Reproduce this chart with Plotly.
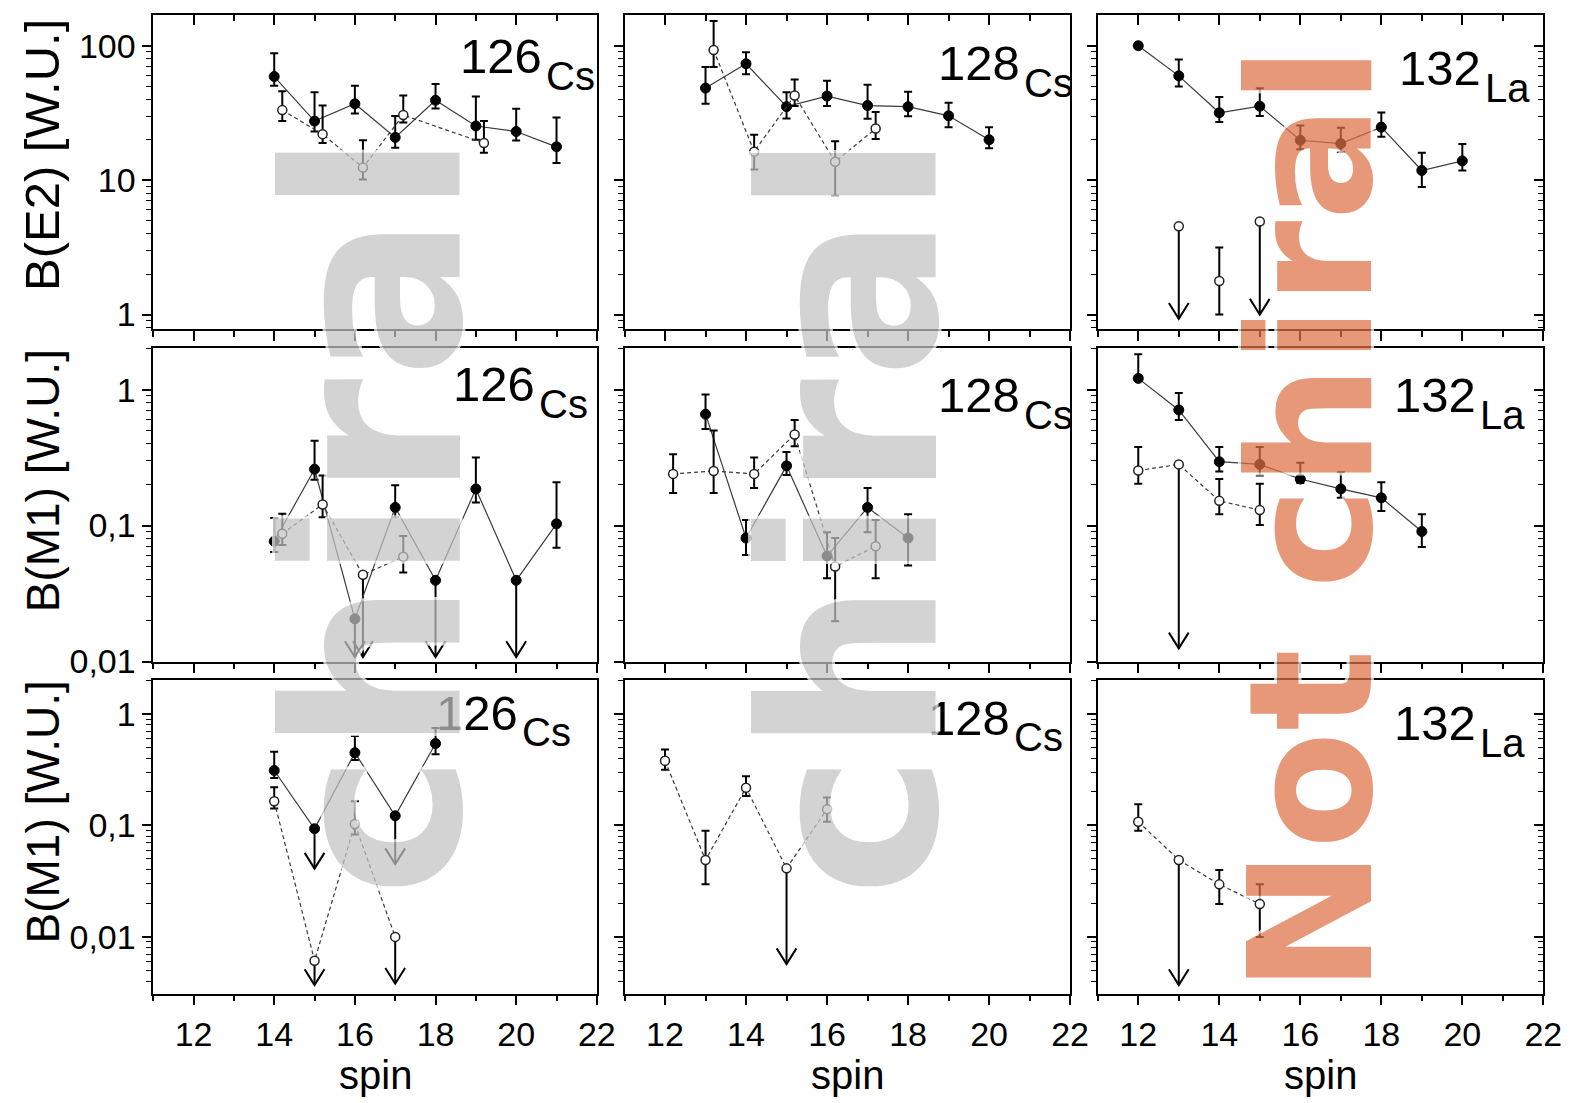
import plotly.graph_objects as go

W, H = 1583, 1103

# ============================ DATA ============================
# ---- Row 1 : B(E2) [W.U.] ----
cs126_e2_f_spin = [14, 15, 16, 17, 18, 19, 20, 21]
cs126_e2_f_val = [59, 27.5, 37, 20.8, 39.3, 25.3, 23, 17.7]
cs126_e2_f_hi = [88, 45, 50.5, 30, 52, 42, 34, 29.3]
cs126_e2_f_lo = [50.5, 23, 31.3, 17.4, 34.1, 20, 19.7, 13.4]
cs126_e2_o_spin = [14.2, 15.2, 16.2, 17.2, 19.2]
cs126_e2_o_val = [33.2, 22, 12.4, 30.5, 18.9]
cs126_e2_o_hi = [45.9, 36, 19.8, 42.7, 27.5]
cs126_e2_o_lo = [27.5, 18.9, 10.1, 26.8, 16]

cs128_e2_f_spin = [13, 14, 15, 16, 17, 18, 19, 20]
cs128_e2_f_val = [48.4, 73.5, 35.2, 42.2, 35.9, 35.2, 30.1, 20.0]
cs128_e2_f_hi = [69.5, 89.4, 45, 54.8, 51.3, 45.5, 37.7, 24.8]
cs128_e2_f_lo = [37.1, 61.5, 28.8, 35.6, 28.6, 29.9, 24.8, 17.3]
cs128_e2_o_spin = [13.2, 14.2, 15.2, 16.2, 17.2]
cs128_e2_o_val = [93, 16.3, 42.6, 13.7, 24.2]
cs128_e2_o_hi = [153, 21.8, 56, 19.5, 32.2]
cs128_e2_o_lo = [69.5, 12, 35.6, 7.66, 20.2]

la132_e2_f_spin = [12, 13, 14, 15, 16, 17, 18, 19, 20]
la132_e2_f_val = [100, 59.7, 31.7, 35.5, 19.8, 18.7, 24.8, 11.8, 13.9]
la132_e2_f_hi = [None, 79, 41.5, 48.3, 25.5, 24.5, 31.9, 16, 18.6]
la132_e2_f_lo = [None, 49.7, 27.1, 30, 17, 16.2, 21, 8.9, 11.8]
la132_e2_o_spin = [13, 14, 15]
la132_e2_o_val = [4.54, 1.78, 4.93]
la132_e2_o_hi = [None, 3.16, None]
la132_e2_o_lo = [None, 1.0, None]
la132_e2_lim_spin = [13, 15]
la132_e2_lim_from = [4.54, 4.93]
la132_e2_lim_to = [0.93, 1.0]

# ---- Row 2 : B(M1) [W.U.] ----
cs126_m1_f_spin = [14, 15, 16, 17, 18, 19, 20, 21]
cs126_m1_f_val = [0.0766, 0.26, 0.0206, 0.136, 0.0396, 0.186, 0.0396, 0.103]
cs126_m1_f_hi = [0.1135, 0.42, None, 0.198, None, 0.317, None, 0.208]
cs126_m1_f_lo = [0.064, 0.217, None, 0.115, None, 0.148, None, 0.0686]
cs126_m1_f_lim_spin = [16, 18, 20]
cs126_m1_f_lim_from = [0.0206, 0.0396, 0.0396]
cs126_m1_f_lim_to = [0.0108, 0.0108, 0.0108]
cs126_m1_o_spin = [14.2, 15.2, 16.2, 17.2]
cs126_m1_o_val = [0.087, 0.143, 0.0435, 0.059]
cs126_m1_o_hi = [0.122, 0.234, None, 0.0837]
cs126_m1_o_lo = [0.072, 0.115, None, 0.0452]
cs126_m1_o_lim_spin = [16.2]
cs126_m1_o_lim_from = [0.0435]
cs126_m1_o_lim_to = [0.0108]

cs128_m1_f_spin = [13, 14, 15, 16, 17, 18]
cs128_m1_f_val = [0.66, 0.081, 0.275, 0.0597, 0.136, 0.081]
cs128_m1_f_hi = [0.92, 0.11, 0.348, 0.0895, 0.189, 0.121]
cs128_m1_f_lo = [0.514, 0.0607, 0.236, 0.041, 0.0895, 0.0508]
cs128_m1_o_spin = [12.2, 13.2, 14.2, 15.2, 16.2, 17.2]
cs128_m1_o_val = [0.24, 0.252, 0.24, 0.468, 0.05, 0.0705]
cs128_m1_o_hi = [0.335, 0.5, 0.317, 0.597, 0.081, 0.11]
cs128_m1_o_lo = [0.174, 0.174, 0.189, 0.383, 0.0198, 0.041]

la132_m1_f_spin = [12, 13, 14, 15, 16, 17, 18, 19]
la132_m1_f_val = [1.21, 0.709, 0.295, 0.282, 0.22, 0.186, 0.16, 0.0905]
la132_m1_f_hi = [1.82, 0.946, 0.379, 0.379, 0.29, 0.247, 0.208, 0.121]
la132_m1_f_lo = [None, 0.597, 0.25, 0.234, 0.206, 0.16, 0.128, 0.0697]
la132_m1_o_spin = [12, 13, 14, 15]
la132_m1_o_val = [0.254, 0.282, 0.152, 0.13]
la132_m1_o_hi = [0.379, None, 0.22, 0.203]
la132_m1_o_lo = [0.203, None, 0.121, 0.101]
la132_m1_lim_spin = [13]
la132_m1_lim_from = [0.282]
la132_m1_lim_to = [0.0125]

# ---- Row 3 : B(M1) [W.U.] (partner band) ----
cs126_m1b_f_spin = [14, 15, 16, 17, 18]
cs126_m1b_f_val = [0.311, 0.0934, 0.449, 0.122, 0.543]
cs126_m1b_f_hi = [0.458, None, 0.634, None, 0.747]
cs126_m1b_f_lo = [0.266, None, 0.386, None, 0.436]
cs126_m1b_f_lim_spin = [15, 17]
cs126_m1b_f_lim_from = [0.0934, 0.122]
cs126_m1b_f_lim_to = [0.041, 0.045]
cs126_m1b_o_spin = [14, 15, 16, 17]
cs126_m1b_o_val = [0.165, 0.0061, 0.103, 0.01]
cs126_m1b_o_hi = [0.22, None, 0.165, None]
cs126_m1b_o_lo = [0.142, None, 0.083, None]
cs126_m1b_o_lim_spin = [15, 17]
cs126_m1b_o_lim_from = [0.0061, 0.01]
cs126_m1b_o_lim_to = [0.0037, 0.0038]

cs128_m1b_o_spin = [12, 13, 14, 15, 16]
cs128_m1b_o_val = [0.38, 0.049, 0.218, 0.0412, 0.14]
cs128_m1b_o_hi = [0.481, 0.0897, 0.276, None, 0.178]
cs128_m1b_o_lo = [0.316, 0.0296, 0.184, None, 0.108]
cs128_m1b_lim_spin = [15]
cs128_m1b_lim_from = [0.0412]
cs128_m1b_lim_to = [0.0057]

la132_m1b_o_spin = [12, 13, 14, 15]
la132_m1b_o_val = [0.108, 0.049, 0.0296, 0.0197]
la132_m1b_o_hi = [0.155, None, 0.0398, 0.0296]
la132_m1b_o_lo = [0.0897, None, 0.0197, 0.01]
la132_m1b_lim_spin = [13]
la132_m1b_lim_from = [0.049]
la132_m1b_lim_to = [0.0037]

# ---- tick labels / texts ----
x_major = [12, 14, 16, 18, 20, 22]
x_minor = [11, 13, 15, 17, 19, 21]
e2_tickvals = [1, 10, 100]
e2_ticktext = ['1', '10', '100']
m1_tickvals = [0.01, 0.1, 1]
m1_ticktext = ['0,01', '0,1', '1']
nucleus_mass = ['126', '128', '132']
nucleus_elem = ['Cs', 'Cs', 'La']
row_titles = ['B(E2) [W.U.]', 'B(M1) [W.U.]', 'B(M1) [W.U.]']
x_title = 'spin'
stamps = ['chiral', 'chiral', 'Not chiral']

# ============================ LAYOUT ============================
COLS = [(147, 596), (624, 1075), (1103, 1554)]
ROWS = [(7.5, 327), (346, 665), (684, 1003)]
YRANGES = [(-0.11, 2.226), (-2.0, 0.306), (-2.51, 0.303)]
XRANGE = [11, 22]
TICKFONT = 34


def minor_log(lo, hi):
    out = []
    for e in range(int(lo) - 1, int(hi) + 2):
        for m in range(2, 10):
            v = m * 10.0 ** e
            if 10 ** lo <= v <= 10 ** hi:
                out.append(v)
    return out


def err(val, hi, lo):
    plus = [(h - v) if h is not None else None for v, h in zip(val, hi)]
    minus = [(v - l) if l is not None else None for v, l in zip(val, lo)]
    return plus, minus


def name(k):
    return '' if k == 1 else str(k)


FONT = 'Liberation Sans, Arial, sans-serif'
fig = go.Figure()

filled = dict(symbol='circle', size=10, color='black', line=dict(color='black', width=1))
opened = dict(symbol='circle', size=9, color='white', line=dict(color='#222', width=1.5))

panels = {
    (0, 0): dict(series=[
        (cs126_e2_f_spin, cs126_e2_f_val, cs126_e2_f_hi, cs126_e2_f_lo, 'f', True),
        (cs126_e2_o_spin, cs126_e2_o_val, cs126_e2_o_hi, cs126_e2_o_lo, 'o', True)],
        limits=[]),
    (0, 1): dict(series=[
        (cs128_e2_f_spin, cs128_e2_f_val, cs128_e2_f_hi, cs128_e2_f_lo, 'f', True),
        (cs128_e2_o_spin, cs128_e2_o_val, cs128_e2_o_hi, cs128_e2_o_lo, 'o', True)],
        limits=[]),
    (0, 2): dict(series=[
        (la132_e2_f_spin, la132_e2_f_val, la132_e2_f_hi, la132_e2_f_lo, 'f', True),
        (la132_e2_o_spin, la132_e2_o_val, la132_e2_o_hi, la132_e2_o_lo, 'o', False)],
        limits=[(la132_e2_lim_spin, la132_e2_lim_from, la132_e2_lim_to)]),
    (1, 0): dict(series=[
        (cs126_m1_f_spin, cs126_m1_f_val, cs126_m1_f_hi, cs126_m1_f_lo, 'f', True),
        (cs126_m1_o_spin, cs126_m1_o_val, cs126_m1_o_hi, cs126_m1_o_lo, 'o', True)],
        limits=[(cs126_m1_f_lim_spin, cs126_m1_f_lim_from, cs126_m1_f_lim_to),
                (cs126_m1_o_lim_spin, cs126_m1_o_lim_from, cs126_m1_o_lim_to)]),
    (1, 1): dict(series=[
        (cs128_m1_f_spin, cs128_m1_f_val, cs128_m1_f_hi, cs128_m1_f_lo, 'f', True),
        (cs128_m1_o_spin, cs128_m1_o_val, cs128_m1_o_hi, cs128_m1_o_lo, 'o', True)],
        limits=[]),
    (1, 2): dict(series=[
        (la132_m1_f_spin, la132_m1_f_val, la132_m1_f_hi, la132_m1_f_lo, 'f', True),
        (la132_m1_o_spin, la132_m1_o_val, la132_m1_o_hi, la132_m1_o_lo, 'o', True)],
        limits=[(la132_m1_lim_spin, la132_m1_lim_from, la132_m1_lim_to)]),
    (2, 0): dict(series=[
        (cs126_m1b_f_spin, cs126_m1b_f_val, cs126_m1b_f_hi, cs126_m1b_f_lo, 'f', True),
        (cs126_m1b_o_spin, cs126_m1b_o_val, cs126_m1b_o_hi, cs126_m1b_o_lo, 'o', True)],
        limits=[(cs126_m1b_f_lim_spin, cs126_m1b_f_lim_from, cs126_m1b_f_lim_to),
                (cs126_m1b_o_lim_spin, cs126_m1b_o_lim_from, cs126_m1b_o_lim_to)]),
    (2, 1): dict(series=[
        (cs128_m1b_o_spin, cs128_m1b_o_val, cs128_m1b_o_hi, cs128_m1b_o_lo, 'o', True)],
        limits=[(cs128_m1b_lim_spin, cs128_m1b_lim_from, cs128_m1b_lim_to)]),
    (2, 2): dict(series=[
        (la132_m1b_o_spin, la132_m1b_o_val, la132_m1b_o_hi, la132_m1b_o_lo, 'o', True)],
        limits=[(la132_m1b_lim_spin, la132_m1b_lim_from, la132_m1b_lim_to)]),
}

layout_axes = {}
for r in range(3):
    for c in range(3):
        k = r * 3 + c + 1
        x0, x1 = COLS[c]
        y0, y1 = ROWS[r]
        ylo, yhi = YRANGES[r]
        tv = e2_tickvals if r == 0 else m1_tickvals
        tt = e2_ticktext if r == 0 else m1_ticktext
        layout_axes['xaxis' + name(k)] = dict(
            domain=[x0 / W, x1 / W], anchor='y' + name(k), range=XRANGE,
            tickmode='array', tickvals=x_major, ticktext=[str(v) for v in x_major],
            ticks='outside', ticklen=10, tickwidth=1.5, tickcolor='black',
            minor=dict(tickmode='array', tickvals=x_minor, ticks='outside', ticklen=6,
                       tickwidth=1.5, tickcolor='black'),
            showticklabels=(r == 2), tickfont=dict(family=FONT, size=TICKFONT, color='black'),
            showline=True, linewidth=1.5, linecolor='black', mirror=True,
            showgrid=False, zeroline=False, fixedrange=True)
        layout_axes['yaxis' + name(k)] = dict(
            domain=[1 - y1 / H, 1 - y0 / H], anchor='x' + name(k), type='log',
            range=[ylo, yhi], tickmode='array', tickvals=tv, ticktext=tt,
            ticks='outside', ticklen=9, tickwidth=1.5, tickcolor='black',
            minor=dict(tickmode='array', tickvals=minor_log(ylo, yhi), ticks='outside',
                       ticklen=5, tickwidth=1.2, tickcolor='black'),
            showticklabels=(c == 0), tickfont=dict(family=FONT, size=TICKFONT, color='black'),
            showline=True, linewidth=1.5, linecolor='black', mirror=True,
            showgrid=False, zeroline=False, fixedrange=True)

        pxu = (x1 - x0) / (XRANGE[1] - XRANGE[0])
        pxd = (y1 - y0) / (yhi - ylo)
        hw = 10 / pxu
        hk = 10 ** (16 / pxd)
        xr, yr = 'x' + name(k), 'y' + name(k)
        ax, ay = [], []
        for sp, fr, to in panels[(r, c)]['limits']:
            for xx, a, b in zip(sp, fr, to):
                ax += [xx, xx, None, xx - hw, xx, xx + hw, None]
                ay += [a, b, None, b * hk, b, b * hk, None]
        if ax:
            fig.add_trace(go.Scatter(x=ax, y=ay, mode='lines', xaxis=xr, yaxis=yr,
                                     line=dict(color='black', width=2), hoverinfo='skip'))
        for sp, val, hi, lo, kind, withline in panels[(r, c)]['series']:
            plus, minus = err(val, hi, lo)
            fig.add_trace(go.Scatter(
                x=sp, y=val, xaxis=xr, yaxis=yr,
                mode='lines+markers' if withline else 'markers',
                line=dict(color='#3a3a3a', width=1.2, dash='solid' if kind == 'f' else '4px,3px'),
                marker=filled if kind == 'f' else opened,
                error_y=dict(type='data', array=plus, arrayminus=minus, symmetric=False,
                             color='black', thickness=2, width=4),
                hoverinfo='skip'))

# inward mirrored ticks: top of first row, right side of last column
for c in range(3):
    k = 10 + c
    base = c + 1
    layout_axes['xaxis' + str(k)] = dict(
        overlaying='x' + name(base), anchor='y' + name(base), side='top', range=XRANGE,
        tickmode='array', tickvals=x_major, ticks='inside', ticklen=10, tickwidth=1.5,
        tickcolor='black', showticklabels=False, showline=False, showgrid=False,
        zeroline=False, fixedrange=True,
        minor=dict(tickmode='array', tickvals=x_minor, ticks='inside', ticklen=6,
                   tickwidth=1.5, tickcolor='black'))
    fig.add_trace(go.Scatter(x=[None], y=[None], xaxis='x' + str(k), yaxis='y' + name(base),
                             hoverinfo='skip'))
for r in range(3):
    k = 10 + r
    base = r * 3 + 3
    ylo, yhi = YRANGES[r]
    tv = e2_tickvals if r == 0 else m1_tickvals
    layout_axes['yaxis' + str(k)] = dict(
        overlaying='y' + name(base), anchor='x' + name(base), side='right', type='log',
        range=[ylo, yhi], tickmode='array', tickvals=tv, ticks='inside', ticklen=9,
        tickwidth=1.5, tickcolor='black', showticklabels=False, showline=False,
        showgrid=False, zeroline=False, fixedrange=True,
        minor=dict(tickmode='array', tickvals=minor_log(ylo, yhi), ticks='inside',
                   ticklen=5, tickwidth=1.2, tickcolor='black'))
    fig.add_trace(go.Scatter(x=[None], y=[None], xaxis='x' + name(base), yaxis='y' + str(k),
                             hoverinfo='skip'))

# ============================ TEXTS ============================
ann = []
# nucleus labels: split x (px) and mass-number centre y (px) per panel
LABEL_POS = {
    (0, 0): (543, 49), (0, 1): (1026, 56), (0, 2): (1493, 61),
    (1, 0): (535, 383), (1, 1): (1026, 394), (1, 2): (1488, 394),
    (2, 0): (518, 717), (2, 1): (1016, 722), (2, 2): (1488, 728),
}
for (r, c), (sx, sy) in LABEL_POS.items():
    ann.append(dict(text=nucleus_mass[c], x=sx / W, y=1 - sy / H, xref='paper', yref='paper',
                    xanchor='right', yanchor='middle', showarrow=False,
                    font=dict(family=FONT, size=49, color='black')))
    ann.append(dict(text=nucleus_elem[c], x=sx / W, y=1 - (sy + 20) / H, xref='paper',
                    yref='paper', xanchor='left', yanchor='middle', showarrow=False,
                    font=dict(family=FONT, size=40, color='black')))

TITLE_Y = [150, 481, 818]
TITLE_SIZE = [49, 46, 46]
for r in range(3):
    ann.append(dict(text=row_titles[r], x=35 / W, y=1 - TITLE_Y[r] / H, xref='paper',
                    yref='paper', textangle=-90, xanchor='center', yanchor='middle',
                    showarrow=False, font=dict(family=FONT, size=TITLE_SIZE[r], color='black')))
for c in range(3):
    ann.append(dict(text=x_title, x=(COLS[c][0] + COLS[c][1]) / 2 / W, y=1 - 1086 / H,
                    xref='paper', yref='paper', xanchor='center', yanchor='middle',
                    showarrow=False, font=dict(family=FONT, size=40, color='black')))

halo = ('white 3px 0px 0px, white -3px 0px 0px, white 0px 3px 0px, white 0px -3px 0px, '
        'white 2px 2px 0px, white -2px -2px 0px, white 2px -2px 0px, white -2px 2px 0px')
STAMP_POS = [(373, 516, 242, 'rgb(195,195,195)'), (854, 516, 242, 'rgb(195,195,195)'),
             (1319, 521, 172, 'rgb(222,113,70)')]
for txt, (sx, sy, fs, col) in zip(stamps, STAMP_POS):
    ann.append(dict(text=txt, x=sx / W, y=1 - sy / H, xref='paper', yref='paper',
                    textangle=-90, xanchor='center', yanchor='middle', showarrow=False,
                    opacity=0.72,
                    font=dict(family='DejaVu Sans', size=fs, color=col, weight='bold',
                              shadow=halo)))

fig.update_layout(width=W, height=H, autosize=False, margin=dict(l=0, r=0, t=0, b=0),
                  paper_bgcolor='white', plot_bgcolor='white', showlegend=False,
                  annotations=ann, **layout_axes)
fig.write_html('out.html')
